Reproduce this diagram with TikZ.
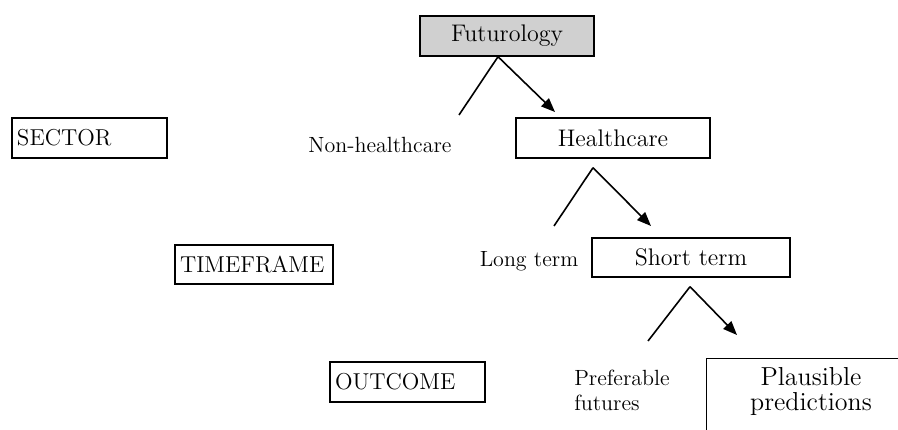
\documentclass[tikz,border=0pt]{standalone}
\usepackage{tikz}
\usetikzlibrary{arrows.meta}
\definecolor{futgray}{RGB}{208, 208, 208}
\tikzset{
  catbox/.style   = {rectangle, draw, line width=0.7pt, align=left, inner xsep=2.5pt, inner ysep=0pt, font=\fontsize{11.5}{13}\selectfont},
  treebox/.style  = {rectangle, draw, line width=0.7pt, align=center, font=\fontsize{12}{14}\selectfont},
  rootbox/.style  = {treebox, fill=futgray},
  branch/.style   = {align=left, font=\fontsize{11}{12.5}\selectfont},
  twig/.style     = {line width=0.8pt},
  flow/.style     = {-{Triangle[length=7pt, width=5.5pt]}, line width=0.8pt},
}
\begin{document}
\begin{tikzpicture}[x=0.5pt, y=-0.5pt]
  \clip (0,0) rectangle (898,429);

  \node[rootbox, minimum width=87pt, minimum height=20pt] (futur) at (507,36) {Futurology};
  \node[treebox, minimum width=97pt, minimum height=20pt] (health) at (613,138) {Healthcare};
  \node[treebox, minimum width=99pt, minimum height=19.5pt] (short) at (691,257.5) {Short term};
  \node[treebox, draw=none, font=\fontsize{13}{12.5}\selectfont, minimum width=104pt, minimum height=32pt] (plaus) at (811,391) {Plausible\\predictions};
  \draw[line width=0.7pt] (plaus.north west |- 0,440) -- (plaus.north west) -- (plaus.north east) -- (plaus.north east |- 0,440);

  \node[catbox, text width=72.5pt, minimum height=20pt] (sector) at (89.5,138) {SECTOR};
  \node[catbox, text width=74pt, minimum height=19.5pt] (timefr) at (254,264.5) {TIMEFRAME};
  \node[catbox, text width=72.5pt, minimum height=20pt] (outc) at (407.5,382) {OUTCOME};

  \node[branch] (nonhc) at (380,145) {Non-healthcare};
  \node[branch] (longt) at (529,261) {Long term};
  \node[branch] (pref) at (622,390) {Preferable\\futures};

  \coordinate (futl) at (459,115);
  \coordinate (futr) at (555,112);
  \coordinate (heal) at (554,226);
  \coordinate (hear) at (651,226);
  \coordinate (shol) at (648,341);
  \coordinate (shor) at (737,335);

  \draw[twig] ([xshift=-4.5pt]futur.south) -- (futl);
  \draw[flow] ([xshift=-4.5pt]futur.south) -- (futr);
  \draw[twig] ([shift={(-10pt,-4.5pt)}]health.south) -- (heal);
  \draw[flow] ([shift={(-10pt,-4.5pt)}]health.south) -- (hear);
  \draw[twig] ([shift={(-0.5pt,-4.5pt)}]short.south) -- (shol);
  \draw[flow] ([shift={(-0.5pt,-4.5pt)}]short.south) -- (shor);
\end{tikzpicture}
\end{document}
